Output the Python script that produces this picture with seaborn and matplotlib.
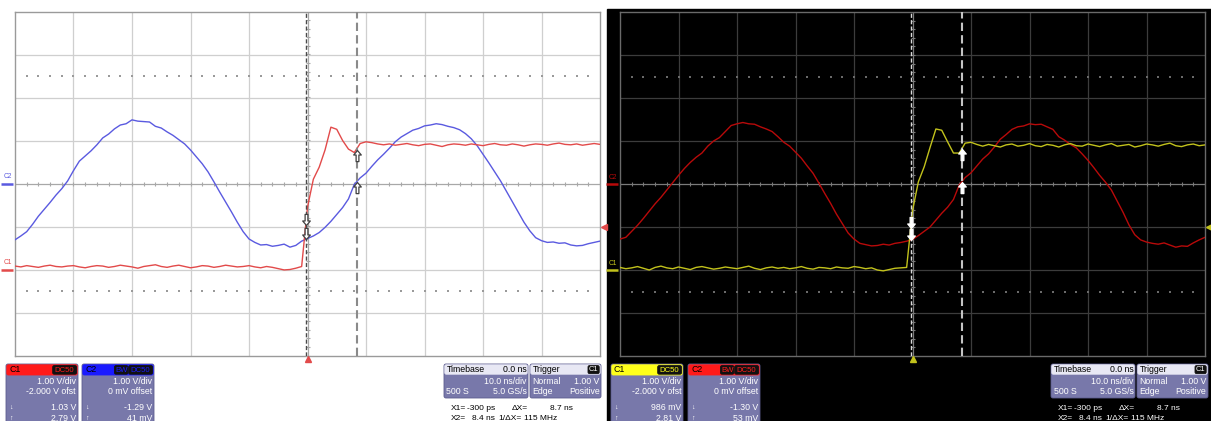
import numpy as np
import pandas as pd
import matplotlib
matplotlib.use("Agg")
import matplotlib.pyplot as plt
from matplotlib.patches import FancyBboxPatch, Rectangle
from matplotlib.path import Path
import seaborn as sns

# ---------------------------------------------------------------- data
TIME_NS = np.arange(-50, 51)          # 1 ns sample grid, 10 ns/div, trigger at 0

# screen 1 (white display): C1 = logic edge, C2 = sine reference (volts)
S1_C1 = [0.08, 0.06, 0.09, 0.07, 0.05, 0.08, 0.10, 0.07, 0.06, 0.08,
         0.09, 0.06, 0.04, 0.07, 0.09, 0.08, 0.05, 0.07, 0.10, 0.08,
         0.06, 0.03, 0.07, 0.09, 0.11, 0.07, 0.05, 0.08, 0.10, 0.07,
         0.04, 0.06, 0.09, 0.08, 0.05, 0.07, 0.10, 0.08, 0.06, 0.07,
         0.09, 0.06, 0.04, 0.07, 0.05, 0.02, -0.01, 0.00, 0.03,
         0.07, 1.45, 2.10, 2.38, 2.78, 3.31, 3.26, 3.00, 2.80, 2.72,
         2.93, 2.97, 2.95, 2.92,
         2.90, 2.92, 2.89, 2.91, 2.93, 2.90, 2.88, 2.91, 2.92, 2.89,
         2.86, 2.90, 2.92, 2.91, 2.89, 2.92, 2.90, 2.88, 2.91, 2.93,
         2.90, 2.89, 2.92, 2.90, 2.87, 2.90, 2.92, 2.91, 2.89, 2.92,
         2.94, 2.91, 2.90, 2.92, 2.89, 2.91, 2.93, 2.91]
S1_C2 = [-1.31, -1.22, -1.12, -0.95, -0.76, -0.60, -0.44, -0.27, -0.12, 0.06,
         0.30, 0.52, 0.64, 0.76, 0.90, 1.06, 1.15, 1.27, 1.36, 1.39,
         1.48, 1.45, 1.44, 1.43, 1.33, 1.29, 1.20, 1.12, 1.02, 0.92,
         0.78, 0.62, 0.46, 0.27, 0.04, -0.20, -0.43, -0.66, -0.90, -1.12,
         -1.29, -1.37, -1.43, -1.42, -1.46, -1.44, -1.41, -1.48, -1.44, -1.34,
         -1.28, -1.22, -1.14, -1.02, -0.88, -0.72, -0.56, -0.36, -0.02, 0.13,
         0.24, 0.40, 0.55, 0.68, 0.82, 0.97, 1.08, 1.16, 1.24, 1.28,
         1.34, 1.36, 1.39, 1.37, 1.33, 1.30, 1.25, 1.16, 1.04, 0.88,
         0.68, 0.48, 0.27, 0.06, -0.18, -0.42, -0.66, -0.90, -1.10, -1.26,
         -1.33, -1.37, -1.36, -1.39, -1.38, -1.43, -1.45, -1.44, -1.40, -1.37,
         -1.34]

# screen 2 (black display): same probe points, second acquisition
S2_C1 = [0.06, 0.03, 0.05, 0.08, 0.04, 0.00, 0.06, 0.09, 0.05, 0.03,
         0.07, 0.04, 0.01, 0.06, 0.08, 0.05, 0.02, 0.04, 0.07, 0.05,
         0.03, 0.06, 0.09, 0.04, 0.01, 0.05, 0.07, 0.04, 0.06, 0.03,
         0.05, 0.08, 0.04, 0.02, 0.06, 0.05, 0.03, 0.07, 0.05, 0.04,
         0.08, 0.06, 0.03, 0.05, 0.00, -0.02, 0.01, 0.04, 0.05,
         0.06, 1.38, 2.05, 2.40, 2.85, 3.28, 3.25, 2.98, 2.72, 2.72,
         2.95, 2.97, 2.92, 2.88,
         2.92, 2.89, 2.86, 2.91, 2.93, 2.88, 2.90, 2.94, 2.89, 2.87,
         2.92, 2.90, 2.86, 2.91, 2.94, 2.89, 2.88, 2.93, 2.90, 2.87,
         2.91, 2.94, 2.88, 2.90, 2.92, 2.86, 2.89, 2.93, 2.91, 2.88,
         2.92, 2.95, 2.89, 2.87, 2.91, 2.93, 2.89, 2.91]
S2_C2 = [-1.28, -1.24, -1.10, -0.96, -0.80, -0.63, -0.46, -0.31, -0.14, 0.03,
         0.20, 0.36, 0.50, 0.62, 0.72, 0.88, 1.00, 1.08, 1.22, 1.36,
         1.40, 1.43, 1.40, 1.39, 1.33, 1.28, 1.22, 1.10, 0.97, 0.88,
         0.74, 0.60, 0.42, 0.25, 0.02, -0.22, -0.45, -0.70, -0.92, -1.14,
         -1.28, -1.38, -1.41, -1.44, -1.43, -1.40, -1.42, -1.38, -1.36, -1.33,
         -1.29, -1.20, -1.10, -1.00, -0.84, -0.68, -0.54, -0.36, -0.02, 0.15,
         0.26, 0.42, 0.58, 0.70, 0.86, 1.04, 1.15, 1.27, 1.33, 1.35,
         1.40, 1.38, 1.39, 1.33, 1.27, 1.10, 1.02, 0.92, 0.84, 0.70,
         0.55, 0.38, 0.20, 0.04, -0.14, -0.40, -0.66, -0.95, -1.18, -1.30,
         -1.35, -1.38, -1.40, -1.37, -1.42, -1.47, -1.44, -1.45, -1.37, -1.30,
         -1.24]

C1_OFFSET = -2.0
C2_OFFSET = 0.0
TRIGGER_LEVEL = 1.00
CURSOR_T = [-0.3, 8.4]                 # X1, X2 in ns
S1_C1_CURSOR = [1.03, 2.79]
S1_C2_CURSOR = [-1.29, 0.041]
S2_C1_CURSOR = [0.986, 2.81]
S2_C2_CURSOR = [-1.30, 0.053]

# ---------------------------------------------------------------- style
sns.set_theme(style="white")
plt.rcParams["font.family"] = ["Liberation Sans", "DejaVu Sans"]

W, H = 1211, 421
fig = plt.figure(figsize=(W / 100, H / 100), dpi=100)

bg = fig.add_axes([0, 0, 1, 1], zorder=0)
bg.set_xlim(0, W)
bg.set_ylim(H, 0)
bg.axis("off")
bg.add_patch(Rectangle((607, 9), W - 607, H, color="black", zorder=0))

DIV_PX = 43.0


def screen_axes(left_px, top_px):
    return fig.add_axes([left_px / W, 1 - (top_px + 8 * DIV_PX) / H,
                         585 / W, 8 * DIV_PX / H], zorder=2)


def volts_label(v):
    if abs(v) < 0.995:
        return f"{round(v * 1000):d} mV"
    return f"{v:.2f} V"


UP = Path([(0, 0), (-0.55, -0.65), (-0.2, -0.65), (-0.2, -1.6),
           (0.2, -1.6), (0.2, -0.65), (0.55, -0.65), (0, 0)], closed=True)
DOWN = Path([(x, -y) for x, y in UP.vertices], closed=True)


def draw_screen(ax, pal, c1, c2, c1_cur, c2_cur):
    ax.set_facecolor(pal["face"])
    ax.set_xlim(-50, 50)
    ax.set_ylim(-4, 4)
    ax.set_xticks([])
    ax.set_yticks([])
    for s in ax.spines.values():
        s.set_color(pal["frame"])
        s.set_linewidth(1.0)
    for gx in range(-40, 50, 10):
        ax.axvline(gx, color=pal["center"] if gx == 0 else pal["grid"],
                   lw=0.9, zorder=1)
    for gy in range(-3, 4):
        ax.axhline(gy, color=pal["center"] if gy == 0 else pal["grid"],
                   lw=0.9, zorder=1)
    tx = np.arange(-50, 50.01, 2)
    ty = np.arange(-4, 4.01, 0.2)
    ax.scatter(tx, np.zeros_like(tx), marker="|", s=12, lw=0.8,
               color=pal["center"], zorder=1)
    ax.scatter(np.zeros_like(ty), ty, marker="_", s=12, lw=0.8,
               color=pal["center"], zorder=1)
    for lvl in (2.5, -2.5):
        ax.scatter(tx[1:-1], np.full(len(tx) - 2, lvl), marker="s", s=0.8,
                   lw=0, color=pal["dots"], zorder=1)

    df = pd.DataFrame({"t": TIME_NS,
                       "c1": np.asarray(c1) + C1_OFFSET,
                       "c2": np.asarray(c2) + C2_OFFSET})
    sns.lineplot(data=df, x="t", y="c2", ax=ax, color=pal["c2"], lw=1.0,
                 zorder=3, estimator=None, sort=False)
    sns.lineplot(data=df, x="t", y="c1", ax=ax, color=pal["c1"], lw=1.0,
                 zorder=3, estimator=None, sort=False)
    ax.set_xlabel("")
    ax.set_ylabel("")

    ax.axvline(CURSOR_T[0], color=pal["x1"], lw=1.0, ls=(0, (3, 1.6)), zorder=4)
    ax.axvline(CURSOR_T[1], color=pal["x2"], lw=1.5, ls=(0, (4, 2)), zorder=4)

    ax.plot([CURSOR_T[0]] * 2,
            [c1_cur[0] + C1_OFFSET, c2_cur[0] + C2_OFFSET],
            ls="none", marker=DOWN, ms=16, mfc="white",
            mec=pal["arrow"], mew=0.9, zorder=6)
    ax.plot([CURSOR_T[1]] * 2,
            [c1_cur[1] + C1_OFFSET, c2_cur[1] + C2_OFFSET],
            ls="none", marker=UP, ms=16, mfc="white",
            mec=pal["arrow"], mew=0.9, zorder=6)

    # channel ground markers on the left edge
    for name, off, col in (("C2", C2_OFFSET, pal["c2"]),
                           ("C1", C1_OFFSET, pal["c1"])):
        ax.plot([-52.4, -50.3], [off, off], color=col, lw=1.8,
                clip_on=False, solid_capstyle="butt")
        ax.text(-51.3, off + 0.08, name, color=col, fontsize=4.8,
                ha="center", va="bottom", clip_on=False)

    # trigger level and trigger position
    ax.plot(50.75, TRIGGER_LEVEL + C1_OFFSET, marker="<", ms=5,
            color=pal["c1"], clip_on=False, zorder=6)
    ax.plot(0, -4.07, marker="^", ms=5, color=pal["c1"],
            clip_on=False, zorder=6)


LIGHT = dict(face="white", frame="#9a9a9a", grid="#cfcfcf", center="#a8a8a8",
             dots="#9a9a9a", c1="#e24a4a", c2="#5a5ae0", x1="#4a4a4a",
             x2="#8a8a8a", arrow="#404040")
DARK = dict(face="black", frame="#6a6a6a", grid="#3c3c3c", center="#7a7a7a",
            dots="#6a6a6a", c1="#c2c21c", c2="#b80a0a", x1="#d8d8d8",
            x2="#c4c4c4", arrow="white")

ax1 = screen_axes(15, 11.5)
ax2 = screen_axes(620, 12)
draw_screen(ax1, LIGHT, S1_C1, S1_C2, S1_C1_CURSOR, S1_C2_CURSOR)
draw_screen(ax2, DARK, S2_C1, S2_C2, S2_C1_CURSOR, S2_C2_CURSOR)

# ---------------------------------------------------------------- info boxes
LAV = "#7878aa"
LAV_EDGE = "#5c5c8e"
FS = 6.3


def rbox(x0, y0, x1, y1, fc, ec=None, r=2.0, lw=0.6, z=2):
    bg.add_patch(FancyBboxPatch((x0, y0), x1 - x0, y1 - y0,
                                boxstyle=f"round,pad=0,rounding_size={r}",
                                fc=fc, ec=ec or fc, lw=lw, zorder=z))


def txt(x, y, s, color="white", ha="left", size=FS):
    bg.text(x, y, s, color=color, ha=ha, va="center", fontsize=size, zorder=5)


def channel_box(x0, x1, name, head, tags, vdiv, offset_txt, cur):
    rbox(x0, 364, x1, 428, LAV, LAV_EDGE)
    rbox(x0 + 0.8, 364.8, x1 - 0.8, 375, head, r=1.5)
    txt(x0 + 3, 370, name, "black")
    right = x1 - 1.5
    for tag in reversed(tags):
        w = 5.2 * len(tag) + 3
        rbox(right - w, 365.6, right, 374.2, "#111111", r=1.5, z=3)
        txt(right - w / 2, 370, tag, head, ha="center", size=5.6)
        right -= w + 0.8
    txt(x1 - 2, 381.5, vdiv, ha="right")
    txt(x1 - 2, 392, offset_txt, ha="right")
    txt(x0 + 3, 407.5, "\u2193", size=5.2)
    txt(x0 + 3, 418.5, "\u2191", size=5.2)
    txt(x1 - 2, 407.5, volts_label(cur[0]), ha="right")
    txt(x1 - 2, 418.5, volts_label(cur[1]), ha="right")


def timebase_boxes(x0, text_col):
    tb1 = x0 + 84
    rbox(x0, 364, tb1, 398, LAV, LAV_EDGE)
    rbox(x0 + 0.8, 364.8, tb1 - 0.8, 374.2, "#e8e8f4", r=1.5)
    txt(x0 + 2.5, 369.5, "Timebase", "black")
    txt(tb1 - 1.5, 369.5, "0.0 ns", "black", ha="right")
    txt(tb1 - 1.5, 381.5, "10.0 ns/div", ha="right")
    txt(x0 + 2.5, 392, "500 S")
    txt(tb1 - 1.5, 392, "5.0 GS/s", ha="right")

    t0, t1 = x0 + 86, x0 + 157
    rbox(t0, 364, t1, 398, LAV, LAV_EDGE)
    rbox(t0 + 0.8, 364.8, t1 - 0.8, 374.2, "#e8e8f4", r=1.5)
    txt(t0 + 2.5, 369.5, "Trigger", "black")
    rbox(t1 - 13, 365.6, t1 - 1.8, 373.6, "#111111", r=1.5, z=3)
    txt(t1 - 7.4, 369.6, "C1", "white", ha="center", size=5.4)
    txt(t0 + 2.5, 381.5, "Normal")
    txt(t1 - 1.5, 381.5, f"{TRIGGER_LEVEL:.2f} V", ha="right")
    txt(t0 + 2.5, 392, "Edge")
    txt(t1 - 1.5, 392, "Positive", ha="right")

    dx = CURSOR_T[1] - CURSOR_T[0]
    x1_txt = f"{round(CURSOR_T[0] * 1000):d} ps"
    x2_txt = f"{CURSOR_T[1]:.1f} ns"
    cs = 6.0
    txt(x0 + 7, 408, "X1=", text_col, size=cs)
    txt(x0 + 51, 408, x1_txt, text_col, ha="right", size=cs)
    txt(x0 + 68, 408, "\u0394X=", text_col, size=cs)
    txt(x0 + 106, 408, f"{dx:.1f} ns", text_col, size=cs)
    txt(x0 + 7, 419, "X2=", text_col, size=cs)
    txt(x0 + 51, 419, x2_txt, text_col, ha="right", size=cs)
    txt(x0 + 54, 419, "1/\u0394X=", text_col, size=cs)
    txt(x0 + 80, 419, f"{round(1000 / dx):d} MHz", text_col, size=cs)


channel_box(6, 78, "C1", "#ff1a1a", ["DC50"], "1.00 V/div",
            "-2.000 V ofst", S1_C1_CURSOR)
channel_box(82, 154, "C2", "#1a1aff", ["BW", "DC50"], "1.00 V/div",
            "0 mV offset", S1_C2_CURSOR)
timebase_boxes(444, "black")

channel_box(611, 683, "C1", "#ffff1a", ["DC50"], "1.00 V/div",
            "-2.000 V ofst", S2_C1_CURSOR)
channel_box(688, 760, "C2", "#ff1a1a", ["BW", "DC50"], "1.00 V/div",
            "0 mV offset", S2_C2_CURSOR)
timebase_boxes(1051, "white")

fig.savefig("out.png", dpi=100)
